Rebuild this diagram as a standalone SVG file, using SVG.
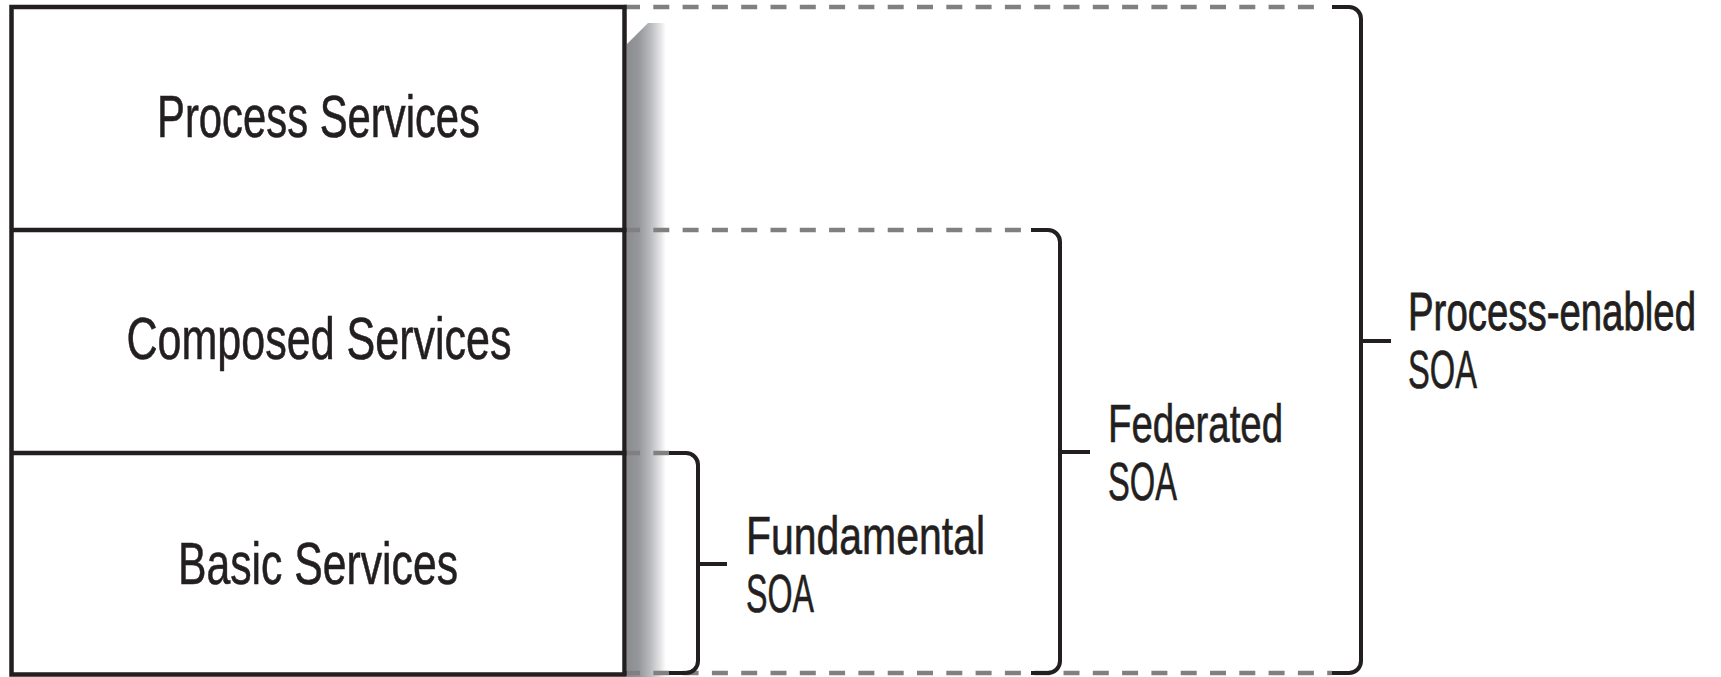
<svg xmlns="http://www.w3.org/2000/svg" width="1721" height="677" viewBox="0 0 1721 677">
<style>
.box{fill:none;stroke:#231f20;stroke-width:4.5}
.div{stroke:#231f20;stroke-width:4.5}
.dash{fill:none;stroke:#808080;stroke-width:4.5;stroke-dasharray:16 13.3}
.br{fill:none;stroke:#231f20;stroke-width:4}
.t{font-family:"Liberation Sans Narrow","Liberation Sans",Arial,sans-serif;fill:#231f20;stroke:#231f20;stroke-width:0.6}
.big{font-size:59px;text-anchor:middle}
.lab{font-size:53px}
</style>
<defs>
<linearGradient id="sh" x1="0" y1="0" x2="1" y2="0">
<stop offset="0" stop-color="#8b8c90"/>
<stop offset="0.3" stop-color="#96979b"/>
<stop offset="0.6" stop-color="#b9babe"/>
<stop offset="0.85" stop-color="#e3e3e5"/>
<stop offset="1" stop-color="#ffffff"/>
</linearGradient>
</defs>
<rect width="1721" height="677" fill="#ffffff"/>
<polygon id="shadow" points="627,44 648,23 666,23 666,677 627,677" fill="url(#sh)"/>
<g id="connectors">
<path class="dash" d="M624,7 H1326"/>
<path class="dash" d="M624,230 H1028"/>
<path class="dash" d="M624,453 H669"/>
<path class="dash" d="M624,673 H1332"/>
<path class="br" d="M1332,7 H1349 A12,12 0 0 1 1361,19 V661 A12,12 0 0 1 1349,673 H1332"/>
<path class="br" d="M1361,341 H1391"/>
<path class="br" d="M1031,230 H1048 A12,12 0 0 1 1060,242 V661 A12,12 0 0 1 1048,673 H1031"/>
<path class="br" d="M1060,452 H1090"/>
<path class="br" d="M669,453 H686 A12,12 0 0 1 698,465 V661 A12,12 0 0 1 686,673 H669"/>
<path class="br" d="M698,564 H727"/>
</g>
<g id="stack">
<rect class="box" x="11.5" y="7" width="613" height="667.5"/>
<line class="div" x1="11.5" y1="230" x2="624.5" y2="230"/>
<line class="div" x1="11.5" y1="453" x2="624.5" y2="453"/>
</g>
<g id="process-services"><text class="t big" x="318.5" y="137" textLength="323" lengthAdjust="spacingAndGlyphs">Process Services</text></g>
<g id="composed-services"><text class="t big" x="319" y="359" textLength="385" lengthAdjust="spacingAndGlyphs">Composed Services</text></g>
<g id="basic-services"><text class="t big" x="318" y="584" textLength="280" lengthAdjust="spacingAndGlyphs">Basic Services</text></g>
<g id="fundamental-soa">
<text class="t lab" x="746" y="554" textLength="239" lengthAdjust="spacingAndGlyphs">Fundamental</text>
<text class="t lab" x="746" y="612" textLength="68" lengthAdjust="spacingAndGlyphs">SOA</text>
</g>
<g id="federated-soa">
<text class="t lab" x="1108" y="442" textLength="175" lengthAdjust="spacingAndGlyphs">Federated</text>
<text class="t lab" x="1108" y="500" textLength="69" lengthAdjust="spacingAndGlyphs">SOA</text>
</g>
<g id="process-enabled-soa">
<text class="t" font-size="38" transform="translate(1408,330) scale(1,1.395)" x="0" y="0" textLength="288" lengthAdjust="spacingAndGlyphs">Process-enabled</text>
<text class="t lab" x="1408" y="388" textLength="69" lengthAdjust="spacingAndGlyphs">SOA</text>
</g>
</svg>
